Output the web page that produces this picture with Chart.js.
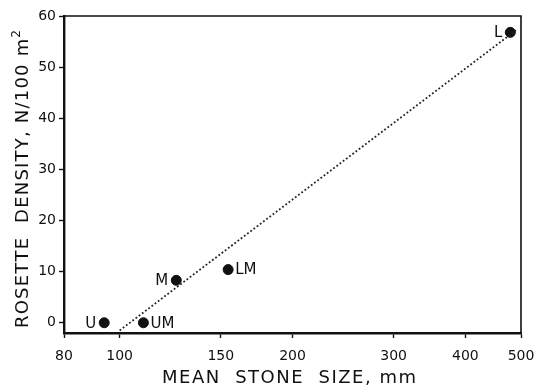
<!DOCTYPE html>
<html>
<head>
<meta charset="utf-8">
<script src="https://cdn.jsdelivr.net/npm/chart.js@4.4.1/dist/chart.umd.min.js"></script>
<style>
  html, body { margin: 0; padding: 0; background: #fff; }
  #wrap { width: 534px; height: 387px; }
</style>
</head>
<body>
<div id="wrap"><canvas id="chart" width="534" height="387"></canvas></div>
<script>
// stations along the slope, mean stone size (mm) and rosette density (N/100 m2)
const stations = ['U', 'UM', 'M', 'LM', 'L'];
const stoneSize = [94, 110, 125.5, 154.5, 479];
const density = [0, 0, 8.3, 10.4, 56.8];

// fitted line end points
const fitSize = [100, 490];
const fitDensity = [-1.5, 57.2];

const xTicks = [80, 100, 150, 200, 300, 400, 500];
const yTicks = [0, 10, 20, 30, 40, 50, 60];

const xTitle = 'MEAN  STONE  SIZE, mm';
const yTitle = 'ROSETTE  DENSITY, N/100 m';

const FONT = 'DejaVu Sans';
const INK = '#111';

// which side of the dot each station name goes
const labelSide = { U: 'left', UM: 'right', M: 'left', LM: 'right', L: 'left' };

const pointLabels = {
    id: 'pointLabels',
    afterDatasetsDraw(chart) {
        const ctx = chart.ctx;
        const meta = chart.getDatasetMeta(1);
        ctx.save();
        ctx.font = '15px "' + FONT + '"';
        ctx.fillStyle = INK;
        ctx.textBaseline = 'middle';
        meta.data.forEach((pt, i) => {
            const name = stations[i];
            if (labelSide[name] === 'left') {
                ctx.textAlign = 'right';
                ctx.fillText(name, pt.x - 8, pt.y + 1);
            } else {
                ctx.textAlign = 'left';
                ctx.fillText(name, pt.x + 7, pt.y + 1);
            }
        });
        ctx.restore();
    }
};

// draws a list of text runs char by char, stretched to a given width
function spacedText(ctx, runs, x, y, width) {
    const chars = [];
    runs.forEach(r => {
        ctx.font = r.font;
        for (const c of r.text) chars.push({ c, font: r.font, dy: r.dy || 0, w: ctx.measureText(c).width });
    });
    const natural = chars.reduce((s, ch) => s + ch.w, 0);
    const gap = (width - natural) / (chars.length - 1);
    let cx = x;
    chars.forEach(ch => {
        ctx.font = ch.font;
        ctx.fillText(ch.c, cx, y + ch.dy);
        cx += ch.w + gap;
    });
}

const axisTitles = {
    id: 'axisTitles',
    afterDraw(chart) {
        const ctx = chart.ctx;
        ctx.save();
        ctx.fillStyle = INK;
        ctx.textAlign = 'left';
        ctx.textBaseline = 'alphabetic';
        spacedText(ctx, [{ text: xTitle, font: '18px "' + FONT + '"' }], 162, 383, 254);

        ctx.translate(28, 328);
        ctx.rotate(-Math.PI / 2);
        spacedText(ctx, [
            { text: yTitle, font: '18px "' + FONT + '"' },
            { text: '2', font: '12px "' + FONT + '"', dy: -8 }
        ], 0, 0, 298);
        ctx.restore();
    }
};

const frame = {
    id: 'frame',
    afterDraw(chart) {
        const a = chart.chartArea;
        const ctx = chart.ctx;
        ctx.save();
        ctx.strokeStyle = INK;
        ctx.lineWidth = 1.6;
        ctx.beginPath();
        ctx.moveTo(a.left, a.top);
        ctx.lineTo(a.right, a.top);
        ctx.lineTo(a.right, a.bottom);
        ctx.stroke();
        ctx.restore();
    }
};

new Chart(document.getElementById('chart'), {
    type: 'scatter',
    data: {
        datasets: [{
            label: 'fit',
            type: 'line',
            data: fitSize.map((x, i) => ({ x, y: fitDensity[i] })),
            borderColor: '#222',
            borderWidth: 1.8,
            borderDash: [1.8, 2.2],
            pointRadius: 0,
            fill: false
        }, {
            label: 'stations',
            data: stoneSize.map((x, i) => ({ x, y: density[i] })),
            backgroundColor: INK,
            borderColor: INK,
            pointRadius: 5,
            pointHoverRadius: 5
        }]
    },
    options: {
        responsive: false,
        animation: false,
        events: [],
        layout: { padding: { top: 16, right: 13, left: 0, bottom: 0 } },
        plugins: {
            legend: { display: false },
            tooltip: { enabled: false }
        },
        scales: {
            x: {
                type: 'logarithmic',
                min: 80,
                max: 500,
                afterBuildTicks: s => { s.ticks = xTicks.map(v => ({ value: v })); },
                afterFit: s => { s.height = 54; s.paddingLeft = 0; s.paddingRight = 0; },
                border: { display: true, color: INK, width: 2.4 },
                grid: { drawOnChartArea: false, drawTicks: true, tickLength: 5, color: INK, tickWidth: 1.4 },
                ticks: {
                    color: INK,
                    font: { family: FONT, size: 14 },
                    padding: 10,
                    maxRotation: 0,
                    autoSkip: false,
                    callback: v => String(v)
                }
            },
            y: {
                min: -2,
                max: 60,
                afterBuildTicks: s => { s.ticks = yTicks.map(v => ({ value: v })); },
                afterFit: s => { s.width = 64; s.paddingTop = 0; s.paddingBottom = 0; },
                border: { display: true, color: INK, width: 2.4 },
                grid: { drawOnChartArea: false, drawTicks: true, tickLength: 5, color: INK, tickWidth: 1.4 },
                ticks: {
                    color: INK,
                    font: { family: FONT, size: 14 },
                    padding: 3,
                    callback: v => String(v)
                }
            }
        }
    },
    plugins: [pointLabels, axisTitles, frame]
});
</script>
</body>
</html>
